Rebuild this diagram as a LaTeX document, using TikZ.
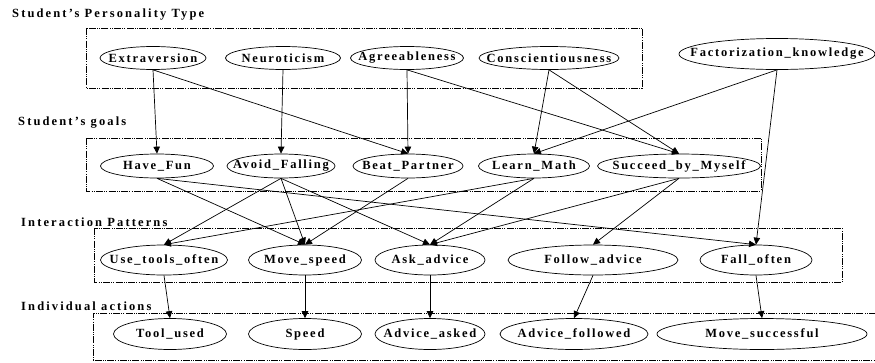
\documentclass[tikz,border=0pt]{standalone}
\usepackage{fontspec}
\usetikzlibrary{arrows.meta,shapes.geometric}
\newfontfamily\lblfont[LetterSpace=14]{Liberation Serif}
\newfontfamily\ttlfont[LetterSpace=17]{Liberation Serif}
\newcommand\nt[1]{\makebox[0pt][c]{#1}}
\tikzset{
  ell/.style={draw, ellipse, inner sep=0pt, line width=0.7pt, font=\lblfont\bfseries\fontsize{12.5}{13}\selectfont},
  grp/.style={draw, line width=0.8pt, dash pattern=on 7pt off 1.2pt on 1pt off 1.2pt on 1pt off 1.2pt},
  ttl/.style={anchor=west, inner sep=0pt, font=\ttlfont\bfseries\fontsize{12.5}{13}\selectfont},
  arr/.style={-{Triangle[length=7pt,width=6.5pt]}, line width=0.7pt},
}
\begin{document}
\begin{tikzpicture}[x=1pt,y=-1pt]
\useasboundingbox (0,0) rectangle (875,362);
% group boxes
\draw[grp] (86,28) rectangle (642,88);
\draw[grp] (86,138) rectangle (761,191);
\draw[grp] (94,228) rectangle (842,282);
\draw[grp] (876,313) -- (93,313) -- (93,360) -- (876,360);
% titles
\node[ttl] (t1) at (12,15) {Student’s Personality Type};
\node[ttl] (t2) at (18,123) {Student’s goals};
\node[ttl] (t3) at (21,222) {Interaction Patterns};
\node[ttl] (t4) at (21,306) {Individual actions};
% top row
\node[ell, minimum width=106, minimum height=23] (ext) at (153,58) {\nt{Extraversion}};
\node[ell, minimum width=115, minimum height=23] (neu) at (283,58) {\nt{Neuroticism}};
\node[ell, minimum width=113, minimum height=23] (agr) at (407,58) {\nt{Agreeableness}};
\node[ell, minimum width=140, minimum height=23] (con) at (549,58) {\nt{Conscientiousness}};
\node[ell, minimum width=196, minimum height=31] (fac) at (777,54) {\nt{Factorization\_knowledge}};
% goals
\node[ell, minimum width=113, minimum height=24] (fun) at (157,166) {\nt{Have\_Fun}};
\node[ell, minimum width=108, minimum height=24] (avo) at (281,166) {\nt{Avoid\_Falling}};
\node[ell, minimum width=110, minimum height=24] (bea) at (408,166) {\nt{Beat\_Partner}};
\node[ell, minimum width=111, minimum height=24] (lea) at (534,166) {\nt{Learn\_Math}};
\node[ell, minimum width=163, minimum height=24] (suc) at (679,166) {\nt{Succeed\_by\_Myself}};
% interaction patterns
\node[ell, minimum width=127, minimum height=30] (use) at (164,260) {\nt{Use\_tools\_often}};
\node[ell, minimum width=113, minimum height=30] (mov) at (305,260) {\nt{Move\_speed}};
\node[ell, minimum width=110, minimum height=30] (ask) at (430,260) {\nt{Ask\_advice}};
\node[ell, minimum width=170, minimum height=30] (fol) at (593,260) {\nt{Follow\_advice}};
\node[ell, minimum width=112, minimum height=30] (fal) at (756,260) {\nt{Fall\_often}};
% individual actions
\node[ell, minimum width=113, minimum height=31] (too) at (170,334) {\nt{Tool\_used}};
\node[ell, minimum width=113, minimum height=31] (spe) at (305,334) {\nt{Speed}};
\node[ell, minimum width=110, minimum height=31] (ada) at (430,334) {\nt{Advice\_asked}};
\node[ell, minimum width=148, minimum height=31] (adf) at (574,334) {\nt{Advice\_followed}};
\node[ell, minimum width=210, minimum height=31] (mvs) at (762,334) {\nt{Move\_successful}};
% edges
\draw[arr] (ext.south) -- (fun.north);
\draw[arr] (ext.south) -- (bea.north);
\draw[arr] (neu.south) -- (avo.north);
\draw[arr] (agr.south) -- (bea.north);
\draw[arr] (agr.south) -- (suc.north);
\draw[arr] (con.south) -- (lea.north);
\draw[arr] (con.south) -- (suc.north);
\draw[arr] (fac.south) -- (lea.north);
\draw[arr] (fac.south) -- (fal.north);
\draw[arr] (fun.south) -- (mov.north);
\draw[arr] (fun.south) -- (fal.north);
\draw[arr] (avo.south) -- (use.north);
\draw[arr] (avo.south) -- (mov.north);
\draw[arr] (avo.south) -- (ask.north);
\draw[arr] (bea.south) -- (mov.north);
\draw[arr] (lea.south) -- (use.north);
\draw[arr] (lea.south) -- (ask.north);
\draw[arr] (suc.south) -- (ask.north);
\draw[arr] (suc.south) -- (fol.north);
\draw[arr] (use.south) -- (too.north);
\draw[arr] (mov.south) -- (spe.north);
\draw[arr] (ask.south) -- (ada.north);
\draw[arr] (fol.south) -- (adf.north);
\draw[arr] (fal.south) -- (mvs.north);
\end{tikzpicture}
\end{document}
